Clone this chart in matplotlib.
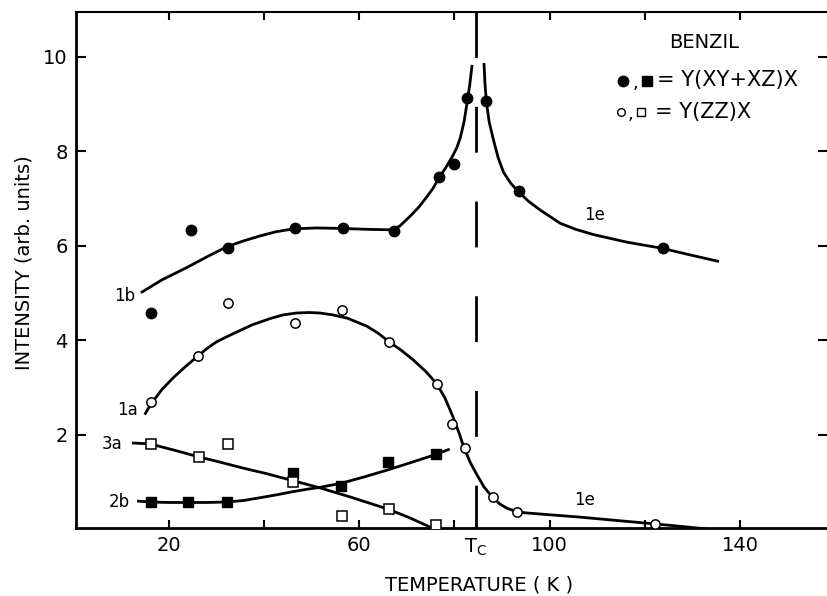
import matplotlib
matplotlib.use("Agg")
import matplotlib.pyplot as plt

plt.rcParams['font.family'] = ['DejaVu Sans']

# ---------------- data ----------------
Tc = 84.5

# Y(XY+XZ)X : filled circles (1b / 1e) and filled squares (2b)
xy_circle_T = [16.2, 24.6, 32.5, 46.5, 56.6, 67.2, 76.8, 79.8, 82.7, 86.7, 93.5, 123.8]
xy_circle_I = [4.59, 6.33, 5.96, 6.37, 6.37, 6.32, 7.46, 7.74, 9.12, 9.06, 7.16, 5.96]
xy_square_T = [16.2, 24.0, 32.2, 46.1, 56.2, 66.1, 76.2]
xy_square_I = [0.58, 0.58, 0.58, 1.20, 0.92, 1.43, 1.60]

# Y(ZZ)X : open circles (1a / 1e) and open squares (3a)
zz_circle_T = [16.2, 26.1, 32.5, 46.5, 56.4, 66.3, 76.4, 79.4, 82.3, 88.0, 93.1, 122.1]
zz_circle_I = [2.70, 3.68, 4.79, 4.37, 4.65, 3.97, 3.08, 2.23, 1.72, 0.69, 0.37, 0.12]
zz_square_T = [16.2, 26.3, 32.5, 46.1, 56.4, 66.3, 76.2]
zz_square_I = [1.81, 1.54, 1.81, 1.01, 0.29, 0.43, 0.10]

# hand-drawn guide curves
curve_1b_T = [14.1, 18.5, 23.7, 28.0, 32.1, 35.5, 39.1, 42.5, 46.1, 51.0, 56.0, 62.0, 66.9,
              68.5, 70.6, 72.5, 74.2, 75.5, 76.8, 78.2, 79.6, 80.5, 81.2, 82.0, 82.6, 83.2, 83.7]
curve_1b_I = [5.01, 5.28, 5.54, 5.77, 5.98, 6.10, 6.21, 6.30, 6.36, 6.38, 6.37, 6.35, 6.34,
              6.42, 6.62, 6.82, 7.04, 7.22, 7.45, 7.66, 7.90, 8.08, 8.28, 8.62, 9.00, 9.40, 9.83]
curve_1e_hi_T = [86.2, 86.4, 86.7, 87.3, 88.2, 89.2, 90.3, 91.8, 93.4, 95.5, 98.0, 102.2,
                 105.5, 109.2, 116.2, 123.6, 129.5, 135.6]
curve_1e_hi_I = [9.87, 9.45, 9.05, 8.62, 8.24, 7.86, 7.56, 7.33, 7.15, 6.95, 6.76, 6.48,
                 6.35, 6.24, 6.08, 5.95, 5.81, 5.67]
curve_1a_T = [14.9, 16.0, 18.5, 21.0, 23.5, 26.1, 28.0, 30.0, 32.2, 34.3, 37.5, 41.2, 44.0,
              46.8, 49.5, 51.7, 54.4, 57.5, 61.6, 64.0, 66.0, 68.7, 71.3, 74.0, 76.3, 78.0,
              79.7, 81.0, 82.0, 83.3, 84.7, 86.2, 87.9, 89.5, 91.0, 92.9, 95.0, 100.0, 106.4,
              114.0, 121.7, 127.0, 133.0]
curve_1a_I = [2.43, 2.62, 2.96, 3.22, 3.45, 3.67, 3.83, 3.97, 4.08, 4.18, 4.33, 4.46, 4.54,
              4.58, 4.59, 4.58, 4.54, 4.47, 4.30, 4.15, 3.99, 3.80, 3.59, 3.34, 3.08, 2.78,
              2.38, 2.03, 1.73, 1.42, 1.16, 0.90, 0.69, 0.54, 0.45, 0.38, 0.35, 0.31, 0.26,
              0.19, 0.12, 0.07, 0.01]
curve_3a_T = [12.2, 16.0, 21.0, 26.1, 30.5, 35.5, 40.5, 45.4, 51.7, 58.0, 62.0, 66.0, 70.5, 75.3]
curve_3a_I = [1.83, 1.81, 1.68, 1.54, 1.43, 1.30, 1.18, 1.05, 0.88, 0.69, 0.56, 0.43, 0.25, 0.03]
curve_2b_T = [13.3, 16.0, 20.0, 24.0, 28.0, 32.1, 35.5, 39.1, 42.5, 46.1, 49.0, 51.7, 56.3,
              61.0, 66.0, 71.0, 75.9, 79.0]
curve_2b_I = [0.60, 0.58, 0.57, 0.57, 0.57, 0.58, 0.61, 0.67, 0.73, 0.80, 0.85, 0.89, 0.98,
              1.11, 1.26, 1.42, 1.58, 1.70]

x_ticks = [20, 40, 60, 80, 100, 120, 140]
x_ticklabels = ['20', '', '60', '', '100', '', '140']
y_ticks = [2, 4, 6, 8, 10]
y_ticklabels = ['2', '4', '6', '8', '10']

curve_labels = [('1b', 10.6, 4.94), ('1a', 11.2, 2.53), ('3a', 8.0, 1.81),
                ('2b', 9.5, 0.58), ('1e', 109.5, 6.66), ('1e', 107.4, 0.62)]

# ---------------- figure ----------------
fig = plt.figure(figsize=(8.28, 5.96), dpi=100)
ax = fig.add_axes([76/828, 1-528/596, (828-76)/828, (528-12)/596])
ax.set_xlim(0.46, 158.5)
ax.set_ylim(0.03, 10.95)

lw = 2.0
for T, I in [(curve_1b_T, curve_1b_I), (curve_1e_hi_T, curve_1e_hi_I),
             (curve_1a_T, curve_1a_I), (curve_3a_T, curve_3a_I), (curve_2b_T, curve_2b_I)]:
    ax.plot(T, I, color='black', lw=lw, solid_capstyle='butt', solid_joinstyle='round', zorder=2)

ax.axvline(Tc, color='black', lw=2.0, linestyle=(1.1, (16.5, 17.6)), zorder=1)

ax.plot(xy_circle_T, xy_circle_I, 'o', ms=7.5, mfc='black', mec='black', zorder=3)
ax.plot(xy_square_T, xy_square_I, 's', ms=7, mfc='black', mec='black', zorder=3)
ax.plot(zz_circle_T, zz_circle_I, 'o', ms=6.7, mfc='white', mec='black', mew=1.1, zorder=3)
ax.plot(zz_square_T, zz_square_I, 's', ms=7.3, mfc='white', mec='black', mew=1.1, zorder=3)

for txt, x, y in curve_labels:
    ax.text(x, y, txt, fontsize=12, ha='center', va='center')

# spines / ticks
ax.spines['right'].set_visible(False)
for s in ['left', 'bottom']:
    ax.spines[s].set_linewidth(2.0)
ax.spines['top'].set_linewidth(1.5)

ax.set_xticks(x_ticks)
ax.set_xticklabels(x_ticklabels)
ax.set_yticks(y_ticks)
ax.set_yticklabels(y_ticklabels)
ax.set_xticks([Tc], labels=[r'T$_\mathrm{C}$'], minor=True)
ax.tick_params(which='major', direction='in', length=6, width=1.5, labelsize=14,
               pad=6, top=True, right=True)
ax.tick_params(axis='y', which='major', length=7)
ax.tick_params(which='minor', length=0, labelsize=14, pad=6)

# axis titles
fig.text(479/828, 1-585/596, 'TEMPERATURE ( K )', fontsize=14, ha='center', va='center')
fig.text(24/828, 1-263/596, 'INTENSITY (arb. units)', fontsize=14, rotation=90,
         ha='center', va='center')

# legend block
def fx(px):
    return (px-76)/752
def fy(py):
    return (528-py)/516

ax.text(fx(704), fy(43), 'BENZIL', transform=ax.transAxes, fontsize=14, ha='center', va='center')
ax.plot([fx(623)], [fy(81)], 'o', ms=7.5, mfc='black', mec='black', transform=ax.transAxes, clip_on=False)
ax.plot([fx(647)], [fy(81)], 's', ms=6.5, mfc='black', mec='black', transform=ax.transAxes, clip_on=False)
ax.text(fx(635), fy(83), ',', transform=ax.transAxes, fontsize=13, ha='center', va='center')
ax.text(fx(657), fy(80), '= Y(XY+XZ)X', transform=ax.transAxes, fontsize=15, ha='left', va='center')
ax.plot([fx(621)], [fy(112)], 'o', ms=5.5, mfc='white', mec='black', mew=1.0, transform=ax.transAxes, clip_on=False)
ax.plot([fx(641)], [fy(112)], 's', ms=5.5, mfc='white', mec='black', mew=1.0, transform=ax.transAxes, clip_on=False)
ax.text(fx(630), fy(114), ',', transform=ax.transAxes, fontsize=13, ha='center', va='center')
ax.text(fx(655), fy(112), '= Y(ZZ)X', transform=ax.transAxes, fontsize=15, ha='left', va='center')

fig.savefig('out.png', dpi=100)
